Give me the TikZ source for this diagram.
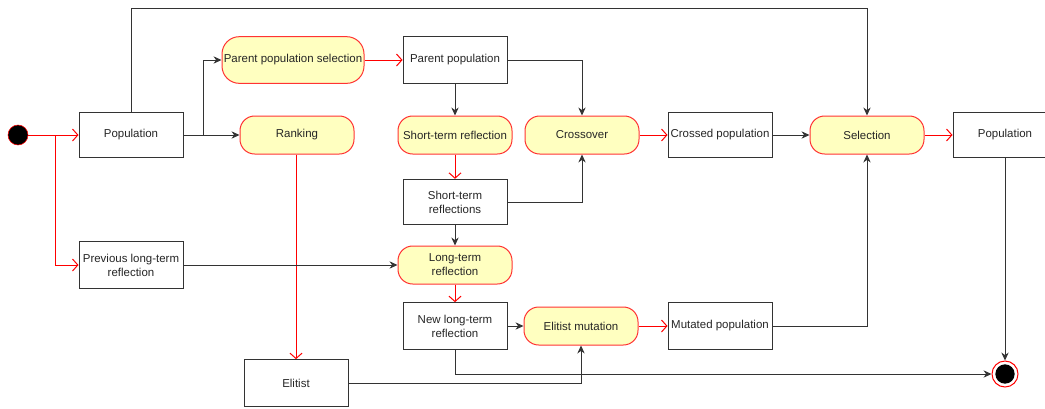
\documentclass[tikz,border=0pt]{standalone}
\usepackage{fontspec}
\setmainfont{Liberation Sans}
\usetikzlibrary{arrows.meta}

\definecolor{actfill}{HTML}{FFFFC0}
\definecolor{actline}{HTML}{FF3333}
\definecolor{boxline}{HTML}{333333}

\tikzset{
  act/.style={draw=actline, fill=actfill, line width=0.75pt, rounded corners=11pt,
    minimum width=85.5pt, minimum height=28.5pt, align=center, inner sep=1pt},
  obj/.style={draw=boxline, fill=white, line width=0.75pt,
    minimum width=78pt, minimum height=34pt, align=center, inner sep=1pt},
  flow/.style={draw=boxline, line width=0.75pt, -{Stealth[length=6pt,width=5.5pt]}},
  ctrl/.style={draw=red, line width=0.75pt, -{Straight Barb[length=4pt,width=9pt]}},
}

\begin{document}
\begin{tikzpicture}[x=0.75pt, y=-0.75pt, font=\fontsize{8.6}{10.5}\selectfont, text=black!85]
  \useasboundingbox (0,0) rectangle (1045,408);
  \node (start) at (18,135) [circle, fill=black, draw=red, minimum size=15pt, inner sep=0pt] {};
  \node (pop) at (131,135) [obj] {Population};
  \node (parsel) at (293,60) [act, minimum width=106.5pt, minimum height=35pt, rounded corners=13pt, inner sep=0pt] {Parent population selection};
  \node (rank) at (297,135) [act] {Ranking};
  \node (parpop) at (455,60) [obj, minimum height=35pt] {Parent population};
  \node (stref) at (455,135) [act] {Short-term reflection};
  \node (cross) at (582,135) [act] {Crossover};
  \node (crosspop) at (720,135) [obj] {Crossed population};
  \node (sel) at (867,135) [act] {Selection};
  \node (popout) at (1005,135) [obj] {Population};
  \node (strefs) at (455,202) [obj] {Short-term\\reflections};
  \node (prevltr) at (131,265) [obj, minimum height=35pt] {Previous long-term\\reflection};
  \node (ltref) at (455,265) [act] {Long-term\\reflection};
  \node (newltr) at (455,326) [obj, minimum height=35pt] {New long-term\\reflection};
  \node (elmut) at (581,326) [act] {Elitist mutation};
  \node (mutpop) at (720,326) [obj, minimum height=35pt] {Mutated population};
  \node (elit) at (296,383) [obj, minimum height=35pt] {Elitist};
  \node (stop) at (1005,374) [circle, draw=red, fill=white, line width=0.75pt, minimum size=19.5pt, inner sep=0pt] {};
  \node (stopdot) at (stop) [circle, fill=black, minimum size=14.5pt, inner sep=0pt] {};
  \coordinate (fork) at (55,135);
  \coordinate (split) at (203,135);

  \draw[ctrl] (start) -- (pop);
  \draw[ctrl] (fork) |- (prevltr);
  \draw[flow] (pop.north) -- (pop.north |- 0,8) -| (sel.north);
  \draw[flow] (pop) -- (rank);
  \draw[flow] (split) |- (parsel);
  \draw[ctrl] (parsel) -- (parpop);
  \draw[flow] (parpop) -- (stref);
  \draw[flow] (parpop) -| (cross);
  \draw[ctrl] (stref) -- (strefs);
  \draw[flow] (strefs) -| (cross);
  \draw[flow] (strefs) -- (ltref);
  \draw[ctrl] (cross) -- (crosspop);
  \draw[flow] (crosspop) -- (sel);
  \draw[ctrl] (sel) -- (popout);
  \draw[flow] (popout) -- (stop);
  \draw[ctrl] (rank.south -| elit) -- (elit);
  \draw[flow] (prevltr) -- (ltref);
  \draw[ctrl] (ltref) -- (newltr);
  \draw[flow] (newltr) -- (elmut);
  \draw[ctrl] (elmut) -- (mutpop);
  \draw[flow] (mutpop) -| (sel);
  \draw[flow] (newltr) |- (stop);
  \draw[flow] (elit) -| (elmut);
\end{tikzpicture}
\end{document}
